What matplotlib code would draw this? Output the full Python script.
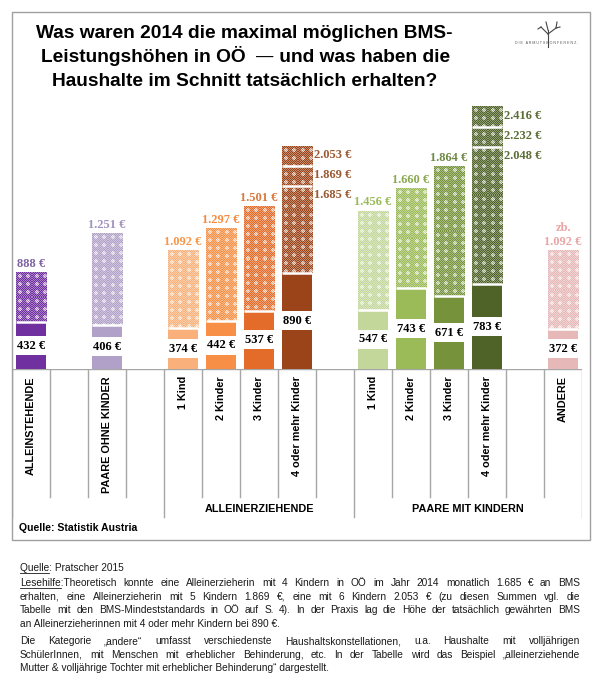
import matplotlib
matplotlib.use("Agg")
import matplotlib.pyplot as plt
import numpy as np
from matplotlib.patches import Rectangle
from matplotlib.lines import Line2D
from matplotlib.colors import to_rgb

plt.rcParams['font.family'] = ['Liberation Sans', 'DejaVu Sans']

# --- data -------------------------------------------------------------
categories = ["ALLEINSTEHENDE", "PAARE OHNE KINDER",
              "1 Kind", "2 Kinder", "3 Kinder", "4 oder mehr Kinder",
              "1 Kind", "2 Kinder", "3 Kinder", "4 oder mehr Kinder",
              "ANDERE"]
groups = ["", "", "ALLEINERZIEHENDE", "ALLEINERZIEHENDE", "ALLEINERZIEHENDE",
          "ALLEINERZIEHENDE", "PAARE MIT KINDERN", "PAARE MIT KINDERN",
          "PAARE MIT KINDERN", "PAARE MIT KINDERN", ""]
actual = [432, 406, 374, 442, 537, 890, 547, 743, 671, 783, 372]      # tatsächlich erhalten
maximum = [888, 1251, 1092, 1297, 1501, 2053, 1456, 1660, 1864, 2416, 1092]  # max. möglich
steps = {5: [1685, 1869, 2053], 9: [2048, 2232, 2416]}  # 4, 5, 6 Kinder
max_prefix = ["", "", "", "", "", "", "", "", "", "", "zb.\n"]

# --- styles -----------------------------------------------------------
solid = ["#7030a0", "#b1a0c7", "#fab07a", "#f79046", "#e46c2a", "#9c4419",
         "#c4d79b", "#9bbb59", "#76933c", "#4f6228", "#e6b9b8"]
label_col = ["#8064a2", "#a092c0", "#f79646", "#f58a3f", "#d9793c", "#9c5a33",
             "#9bbb59", "#8aa84f", "#6f8a45", "#5a6e35", "#e8a5a5"]

W, H = 600, 685
fig = plt.figure(figsize=(6.0, 6.85), dpi=100)


def fx(x):
    return x / W


def fy(y):
    return 1 - y / H


def eur(v):
    return f"{v:,}".replace(",", ".") + " €"


# dither tile for the "maximal möglich" part (share of white per pixel)
tile = np.zeros((8, 8))
for r in range(8):
    for c in range(8):
        chk = (r + c) % 2
        if abs(r - 3.5) + abs(c - 3.5) < 2.1:
            tile[r, c] = 0.8 if chk else 0.45
        else:
            tile[r, c] = 0.38 if chk else 0.0


def texture(color, hpx, wpx):
    w = np.tile(tile, (hpx // 8 + 1, wpx // 8 + 1))[:hpx, :wpx, None]
    return np.array(to_rgb(color))[None, None, :] * (1 - w) + w


# column positions: one blank column between groups / single bars
xpos = []
x = 0
for i, g in enumerate(groups):
    if i > 0:
        x += 1 if (g and g == groups[i - 1]) else 2
    xpos.append(x)
ncol = xpos[-1] + 1

# --- bars -------------------------------------------------------------
base, top = 369, 100
scale = 0.1084  # px per euro
colw = 570 / ncol
ax = fig.add_axes([fx(12), fy(base), fx(570), (base - top) / H])
ax.axis('off')

bw = 0.79
gap_h = 19 / scale
numfont = dict(family=['Liberation Serif', 'DejaVu Serif'], fontweight='bold', fontsize=9)
for i in range(len(categories)):
    xi, a, m = xpos[i], actual[i], maximum[i]
    ax.bar(xi, a, width=bw, color=solid[i], linewidth=0)
    img = texture(solid[i], max(int(round((m - a) * scale)), 1), int(round(bw * colw)))
    ax.imshow(img, extent=(xi - bw / 2, xi + bw / 2, a, m), aspect='auto',
              interpolation='nearest', origin='upper', zorder=1)
    # white separators
    for s in [a] + steps.get(i, [])[:-1]:
        ax.plot([xi - bw / 2, xi + bw / 2], [s, s], color='white', lw=1.8,
                solid_capstyle='butt', zorder=2)
    # actual value in a white gap
    ax.bar(xi, gap_h, bottom=a / 2 - gap_h / 2, width=bw + 0.02, color='white',
           linewidth=0, zorder=2)
    ax.text(xi, a / 2, eur(a), ha='center', va='center', color='black', zorder=3,
            **numfont)
    if i in steps:
        for s in steps[i]:
            ax.annotate(eur(s), (xi + bw / 2, s), xytext=(1.5, -6.5),
                        textcoords='offset points', ha='left', va='center',
                        color=label_col[i], **numfont)
    else:
        ax.annotate(max_prefix[i] + eur(m), (xi, m), xytext=(0, 2),
                    textcoords='offset points', ha='center', va='bottom',
                    color=label_col[i], linespacing=1.15, **numfont)
ax.set_xlim(-0.5, ncol - 0.5)
ax.set_ylim(0, (base - top) / scale)

# --- table below the bars ---------------------------------------------
tax = fig.add_axes([fx(12), fy(541), fx(570), (541 - base) / H])
tax.set_xlim(-0.5, ncol - 0.5)
tax.set_ylim(541, base)
tax.axis('off')
lc = "#a6a6a6"
tax.plot([-0.5, ncol - 0.5], [base, base], color=lc, lw=1.0)
gstarts = [-0.5]
glabels = []
for i, g in enumerate(groups):
    if g and (i == 0 or groups[i - 1] != g):
        gstarts.append(xpos[i] - 0.5)
        glabels.append(g)
gstarts.append(ncol - 0.5)
for k in range(ncol + 1):
    xb = k - 0.5
    y2 = 517 if xb in gstarts else 497
    tax.plot([xb, xb], [base, y2], color=lc, lw=1.0)
for j, g in enumerate(glabels):
    tax.text((gstarts[j + 1] + gstarts[j + 2]) / 2, 509, g, ha='center',
             va='center', fontweight='bold', fontsize=7.8)
for i, c in enumerate(categories):
    tax.text(xpos[i], 376, c, rotation=90, ha='center', va='top',
             fontweight='bold', fontsize=7.8)

fig.text(fx(19), fy(528), "Quelle: Statistik Austria", fontweight='bold',
         fontsize=7.6, va='center')

# frame
fig.add_artist(Rectangle((fx(12), fy(540)), fx(578), 528 / H, transform=fig.transFigure,
                         fill=False, edgecolor="#a0a0a0", lw=1.0))

r = fig.canvas.get_renderer()


def textw(s, **kw):
    t = fig.text(0, 0, s, **kw)
    w = t.get_window_extent(r).width
    t.remove()
    return w


# --- title and logo ---------------------------------------------------
tfont = dict(fontweight='bold', fontsize=13.8)
fig.text(fx(244), fy(37.5), "Was waren 2014 die maximal möglichen BMS-", ha='center',
         va='baseline', **tfont)
# second line: bold text with a thin dash in between
parts = [("Leistungshöhen in OÖ  ", tfont), ("\u2014", dict(fontsize=12.5)),
         (" und was haben die", tfont)]
xx = 41
for s, kw in parts:
    fig.text(fx(xx), fy(62), s, ha='left', va='baseline', **kw)
    xx += textw(s, **kw)
fig.text(fx(245), fy(86.5), "Haushalte im Schnitt tatsächlich erhalten?", ha='center',
         va='baseline', **tfont)

tree = [[(548, 47), (548, 30)], [(548, 34), (541, 27)], [(548, 34), (556, 28)],
        [(541, 27), (538, 29)], [(556, 28), (557, 22)], [(548, 30), (546, 22)],
        [(556, 28), (560, 27)]]
for seg in tree:
    fig.add_artist(Line2D([fx(p[0]) for p in seg], [fy(p[1]) for p in seg],
                          color="#444444", lw=0.8, transform=fig.transFigure))
fig.text(fx(547), fy(43), "D I E   A R M U T S K O N F E R E N Z .", ha='center',
         va='center', fontsize=2.6, color="#555555")

# --- notes below the chart --------------------------------------------
fs = 7.3
tc = '#1a1a1a'


def underline(x0, y, word):
    w = textw(word, fontsize=fs)
    fig.add_artist(Line2D([fx(x0), fx(x0 + w)], [fy(y + 5), fy(y + 5)], color=tc,
                          lw=0.6, transform=fig.transFigure))


def justify(lines, y0, dy, x0, x1):
    for i, line in enumerate(lines):
        y = y0 + i * dy
        if i == len(lines) - 1:
            fig.text(fx(x0), fy(y), line, fontsize=fs, va='center', color=tc)
            continue
        words = line.split(' ')
        widths = [textw(w, fontsize=fs) for w in words]
        gap = (x1 - x0 - sum(widths)) / (len(words) - 1)
        xx = x0
        for w, wd in zip(words, widths):
            fig.text(fx(xx), fy(y), w, fontsize=fs, va='center', color=tc)
            xx += wd + gap


fig.text(fx(20), fy(568), "Quelle: Pratscher 2015", fontsize=fs, va='center', color=tc)
underline(20, 568, "Quelle")

p1 = ["Lesehilfe:Theoretisch konnte eine Alleinerzieherin mit 4 Kindern in OÖ im Jahr 2014 monatlich 1.685 € an BMS",
      "erhalten, eine Alleinerzieherin mit 5 Kindern 1.869 €, eine mit 6 Kindern 2.053 € (zu diesen Summen vgl. die",
      "Tabelle mit den BMS-Mindeststandards in OÖ auf S. 4). In der Praxis lag die Höhe der tatsächlich gewährten BMS",
      "an Alleinerzieherinnen mit 4 oder mehr Kindern bei 890 €."]
justify(p1, 583, 13.7, 20, 580)
underline(20, 583, "Lesehilfe")

p2 = ["Die Kategorie „andere“ umfasst verschiedenste Haushaltskonstellationen, u.a. Haushalte mit volljährigen",
      "SchülerInnen, mit Menschen mit erheblicher Behinderung, etc. In der Tabelle wird das Beispiel „alleinerziehende",
      "Mutter & volljährige Tochter mit erheblicher Behinderung“ dargestellt."]
justify(p2, 641, 13.7, 20, 580)

fig.savefig("out.png", dpi=100, facecolor='white')
